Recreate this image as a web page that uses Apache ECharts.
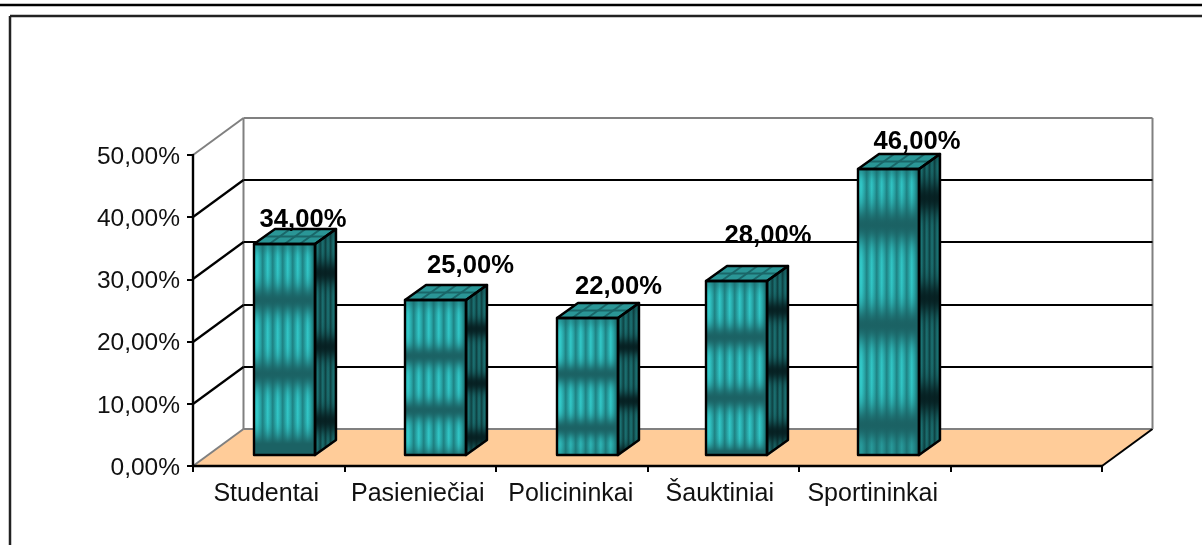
<!DOCTYPE html>
<html>
<head>
<meta charset="utf-8">
<style>html,body{margin:0;padding:0;background:#fff}#c{width:1202px;height:545px}</style>
<script src="https://cdn.jsdelivr.net/npm/echarts@6/dist/echarts.min.js"></script>
</head>
<body>
<div id="c"></div>
<script>
const categories = ['Studentai', 'Pasieniečiai', 'Policininkai', 'Šauktiniai', 'Sportininkai', ''];
const shares = [34, 25, 22, 28, 46];
const yTicks = [0, 10, 20, 30, 40, 50];

// Presentation constants (not data)
const FONT = '"Liberation Sans", Arial, sans-serif';
const WALL_DX = 50.5, WALL_DY = -37;
const BAR_W = 61, BAR_DX = 21, BAR_DY = -15, BAR_SHIFT_X = 15.5, BAR_SHIFT_Y = -11;
const barNudge = [0, 0, 0, -2, -2];
const labelNudge = [[18.5, -24.5], [35, -34.5], [31, -31], [31.5, -45], [28.5, -27.5]];
const axisLabelPad = [5, 5, 2, 7, 4, 0];

const chart = echarts.init(document.getElementById('c'));

function stripes(x0, x1, period, bright, valley, phase) {
  const stops = [];
  const w = x1 - x0;
  for (let p = -period + phase; p < w + period; p += period) {
    const a = p / w, b = (p + period * 0.5) / w, c = (p + period * 0.78) / w, d = (p + period) / w;
    [[a, valley], [b, bright], [c, mid(bright, valley)], [d, valley]].forEach(s => {
      if (s[0] >= 0 && s[0] <= 1) stops.push({ offset: s[0], color: s[1] });
    });
  }
  stops.sort((m, n) => m.offset - n.offset);
  return { type: 'linear', x: x0, y: 0, x2: x1, y2: 0, global: true, colorStops: stops };
}
function mid(a, b) {
  const h = s => [1, 3, 5].map(i => parseInt(s.substr(i, 2), 16));
  const A = h(a), B = h(b);
  return 'rgb(' + A.map((v, i) => Math.round((v + B[i]) / 2)).join(',') + ')';
}
// smooth horizontal shading bands, sampled down the face
function bands(yTop, yBot, first, period, rgb, sigma, peak, edgeA) {
  const stops = [];
  const h = yBot - yTop;
  for (let y = 0; y <= h; y += 2) {
    let a = edgeA * Math.exp(-Math.pow(y / 9, 2)) + edgeA * 0.7 * Math.exp(-Math.pow((h - y) / 9, 2));
    for (let d = first; d < h + period; d += period) {
      a += peak * Math.exp(-Math.pow((y - d) / sigma, 2));
    }
    stops.push({ offset: y / h, color: 'rgba(' + rgb + ',' + Math.min(1, a).toFixed(3) + ')' });
  }
  return { type: 'linear', x: 0, y: yTop, x2: 0, y2: yBot, global: true, colorStops: stops };
}

function renderWalls(params, api) {
  const bl = api.coord([0, 0]);
  const top = api.coord([0, yTicks[yTicks.length - 1]])[1];
  const x0 = params.coordSys.x, x1 = x0 + params.coordSys.width, y0 = bl[1];
  const gray = { stroke: '#808080', lineWidth: 2 };
  return { type: 'group', silent: true, children: [
    { type: 'polygon', shape: { points: [[x0, y0], [x1, y0], [x1 + WALL_DX, y0 + WALL_DY], [x0 + WALL_DX, y0 + WALL_DY]] }, style: { fill: '#ffcc99' } },
    { type: 'line', shape: { x1: x0 + WALL_DX, y1: y0 + WALL_DY, x2: x1 + WALL_DX, y2: y0 + WALL_DY }, style: gray },
    { type: 'line', shape: { x1: x0, y1: y0, x2: x0 + WALL_DX, y2: y0 + WALL_DY }, style: gray },
    { type: 'line', shape: { x1: x1, y1: y0, x2: x1 + WALL_DX, y2: y0 + WALL_DY }, style: { stroke: '#000', lineWidth: 2 } },
    { type: 'line', shape: { x1: x0 + WALL_DX, y1: top + WALL_DY, x2: x0 + WALL_DX, y2: y0 + WALL_DY }, style: gray },
    { type: 'line', shape: { x1: x1 + WALL_DX, y1: top + WALL_DY, x2: x1 + WALL_DX, y2: y0 + WALL_DY }, style: gray },
    { type: 'line', shape: { x1: x0 + WALL_DX, y1: top + WALL_DY, x2: x1 + WALL_DX, y2: top + WALL_DY }, style: gray },
    { type: 'line', shape: { x1: x0, y1: top, x2: x0 + WALL_DX, y2: top + WALL_DY }, style: gray }
  ] };
}

function renderGrid(params, api) {
  const v = api.value(0);
  if (v === 0 || v === yTicks[yTicks.length - 1]) return { type: 'group', children: [] };
  const y = Math.round(api.coord([0, v])[1]);
  const x0 = params.coordSys.x, x1 = x0 + params.coordSys.width;
  const s = { stroke: '#000', lineWidth: 2.2 };
  return { type: 'group', silent: true, children: [
    { type: 'line', shape: { x1: x0, y1: y, x2: x0 + WALL_DX, y2: y + WALL_DY }, style: s },
    { type: 'line', shape: { x1: x0 + WALL_DX, y1: y + WALL_DY, x2: x1 + WALL_DX, y2: y + WALL_DY }, style: s }
  ] };
}

function renderBar(params, api) {
  const i = api.value(0), val = api.value(1);
  const c = api.coord([i, val]), b = api.coord([i, 0]);
  const l = Math.round(c[0] + BAR_SHIFT_X - BAR_W / 2) + barNudge[i], r = l + BAR_W;
  const t = Math.round(c[1] + BAR_SHIFT_Y), bt = Math.round(b[1] + BAR_SHIFT_Y);
  const h = bt - t;
  const period = Math.max(h * 0.35, 54);
  const edge = { stroke: '#000', lineWidth: 2.4, fill: 'none', lineJoin: 'round' };
  const frontRect = { x: l, y: t, width: BAR_W, height: h };
  const sidePts = [[r, t], [r + BAR_DX, t + BAR_DY], [r + BAR_DX, bt + BAR_DY], [r, bt]];
  const topPts = [[l, t], [l + BAR_DX, t + BAR_DY], [r + BAR_DX, t + BAR_DY], [r, t]];
  const children = [
    { type: 'rect', shape: frontRect, style: { fill: stripes(l, r, 10, '#32c8c8', '#1e8283', -1.3) } },
    { type: 'rect', shape: frontRect, style: { fill: bands(t, bt, 56, period, '27,98,100', period * 0.2, 1, 0.5) } },
    { type: 'polygon', shape: { points: sidePts }, style: { fill: stripes(r, r + BAR_DX, 5.2, '#1c7475', '#0e4142', 0) } },
    { type: 'polygon', shape: { points: sidePts }, style: { fill: bands(t + BAR_DY, bt, 44, period, '6,30,32', period * 0.17, 0.95, 0.25) } },
    { type: 'polygon', shape: { points: topPts }, style: { fill: '#2a9696' } }
  ];
  // lattice on the top face
  const lat = { stroke: '#1a6668', lineWidth: 2 };
  for (let k = 1; k < 4; k++) {
    const f = k / 4;
    children.push({ type: 'line', shape: { x1: l + BAR_W * f, y1: t, x2: l + BAR_W * f + BAR_DX, y2: t + BAR_DY }, style: lat });
  }
  children.push({ type: 'line', shape: { x1: l + BAR_DX / 2, y1: t + BAR_DY / 2, x2: r + BAR_DX / 2, y2: t + BAR_DY / 2 }, style: lat });
  children.push(
    { type: 'line', shape: { x1: r + 1, y1: bt + 1, x2: r + BAR_DX + 1, y2: bt + BAR_DY + 1 }, style: { stroke: '#f4d2a8', lineWidth: 1 } },
    { type: 'rect', shape: frontRect, style: edge },
    { type: 'polygon', shape: { points: sidePts }, style: edge },
    { type: 'polygon', shape: { points: topPts }, style: edge },
    { type: 'text', z2: 20, style: {
      x: (l + r) / 2 + labelNudge[i][0], y: t + labelNudge[i][1],
      text: String(val.toFixed(2)).replace('.', ',') + '%',
      fill: '#000', font: 'bold 25.6px ' + FONT, align: 'center', verticalAlign: 'middle' } }
  );
  return { type: 'group', silent: true, children };
}

chart.setOption({
  animation: false,
  backgroundColor: '#fff',
  grid: { left: 193, right: 100, top: 155, bottom: 79, containLabel: false },
  graphic: { elements: [
    { type: 'line', silent: true, shape: { x1: 0, y1: 5, x2: 1202, y2: 5 }, style: { stroke: '#000', lineWidth: 2.5 } },
    { type: 'line', silent: true, shape: { x1: 10, y1: 16, x2: 1202, y2: 16 }, style: { stroke: '#222', lineWidth: 2.5 } },
    { type: 'line', silent: true, shape: { x1: 10, y1: 16, x2: 10, y2: 545 }, style: { stroke: '#222', lineWidth: 2.5 } }
  ] },
  xAxis: {
    type: 'category', z: 5,
    data: categories.map((name, i) => ({ value: name, textStyle: { padding: [0, axisLabelPad[i], 0, 0] } })),
    boundaryGap: true,
    axisLine: { lineStyle: { color: '#000', width: 2.4 } },
    axisTick: { show: true, alignWithLabel: false, length: 6, lineStyle: { color: '#000', width: 2 } },
    axisLabel: { color: '#111', fontFamily: FONT, fontSize: 25, margin: 16, interval: 0 },
    splitLine: { show: false }
  },
  yAxis: {
    type: 'value', min: 0, max: 50, interval: 10, z: 5,
    axisLine: { show: true, lineStyle: { color: '#000', width: 2.4 } },
    axisTick: { show: true, length: 6, lineStyle: { color: '#000', width: 2 } },
    axisLabel: { color: '#111', fontFamily: FONT, fontSize: 24.5, margin: 13,
      verticalAlign: 'top', lineHeight: 24, padding: [-10, 0, 0, 0],
      formatter: v => v.toFixed(2).replace('.', ',') + '%' },
    splitLine: { show: false }
  },
  series: [
    { type: 'custom', name: 'walls', z: 1, clip: false, renderItem: renderWalls, data: [[0]] },
    { type: 'custom', name: 'grid', z: 2, clip: false, renderItem: renderGrid, data: yTicks.map(v => [v]) , encode: { y: 0 } },
    { type: 'custom', name: 'bars', z: 3, clip: false, renderItem: renderBar,
      data: shares.map((v, i) => [i, v]), encode: { x: 0, y: 1 } }
  ]
});
</script>
</body>
</html>
